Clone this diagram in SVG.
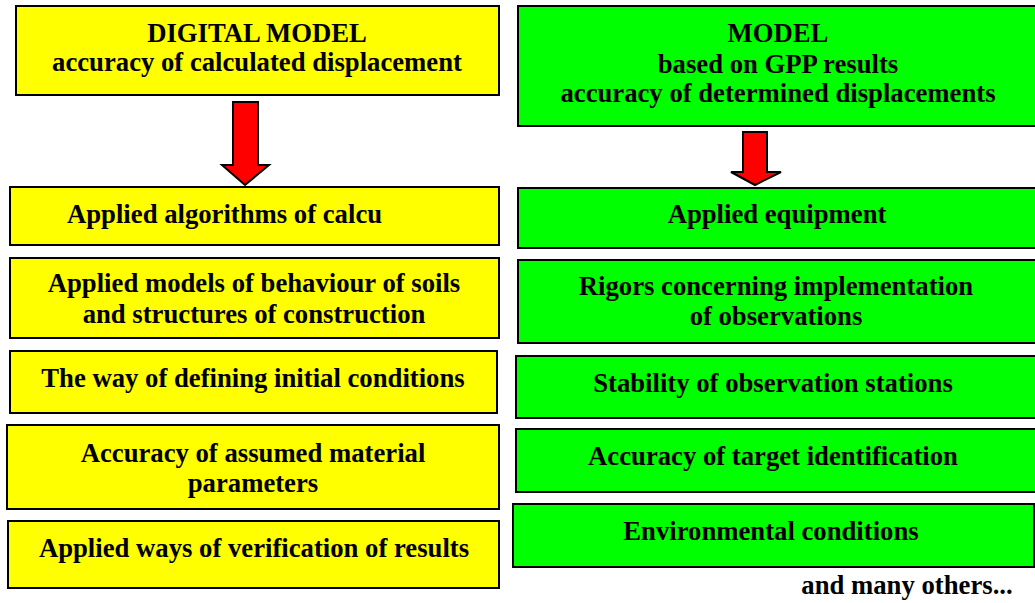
<svg xmlns="http://www.w3.org/2000/svg" width="1035" height="603" viewBox="0 0 1035 603">
<style>
.y{fill:#FFFF00;stroke:#000;stroke-width:2}
.g{fill:#00FF00;stroke:#000;stroke-width:2}
.t{font-family:"Liberation Serif","Times New Roman",serif;font-weight:bold;font-size:26.7px;fill:#000;text-anchor:middle}
.a{fill:#FF0000;stroke:#000;stroke-width:2;stroke-linejoin:miter}
</style>
<rect width="1035" height="603" fill="#fff"/>
<g id="left-head"><rect class="y" x="16" y="6" width="483" height="89"/>
<text class="t" x="257" y="42">DIGITAL MODEL</text>
<text class="t" x="257" y="71">accuracy of calculated displacement</text></g>
<g id="right-head"><rect class="g" x="518" y="6" width="530" height="120"/>
<text class="t" x="778" y="42">MODEL</text>
<text class="t" x="778" y="73">based on GPP results</text>
<text class="t" x="778" y="102">accuracy of determined displacements</text></g>
<g id="connectors">
<polygon class="a" points="233,102 258,102 258,165 269,165 245,185 222,165 233,165"/>
<polygon class="a" points="743,132 767,132 767,172 781,172 755,185 731,172 743,172"/>
</g>
<g id="l1"><rect class="y" x="10" y="187" width="489" height="58"/>
<text class="t" x="67" y="223" style="text-anchor:start">Applied algorithms of calcu</text></g>
<g id="l2"><rect class="y" x="10" y="258" width="489" height="80"/>
<text class="t" x="254" y="292">Applied models of behaviour of soils</text>
<text class="t" x="254" y="323">and structures of construction</text></g>
<g id="l3"><rect class="y" x="10" y="351" width="487" height="62"/>
<text class="t" x="253" y="387">The way of defining initial conditions</text></g>
<g id="l4"><rect class="y" x="7" y="425" width="492" height="84"/>
<text class="t" x="253" y="462">Accuracy of assumed material</text>
<text class="t" x="253" y="492">parameters</text></g>
<g id="l5"><rect class="y" x="8" y="521" width="491" height="67"/>
<text class="t" x="254" y="557">Applied ways of verification of results</text></g>
<g id="r1"><rect class="g" x="518" y="188" width="530" height="60"/>
<text class="t" x="777" y="223">Applied equipment</text></g>
<g id="r2"><rect class="g" x="518" y="260" width="530" height="83"/>
<text class="t" x="776" y="295">Rigors concerning implementation</text>
<text class="t" x="776" y="325">of observations</text></g>
<g id="r3"><rect class="g" x="516" y="356" width="530" height="62"/>
<text class="t" x="773" y="392">Stability of observation stations</text></g>
<g id="r4"><rect class="g" x="516" y="429" width="530" height="63"/>
<text class="t" x="773" y="465">Accuracy of target identification</text></g>
<g id="r5"><rect class="g" x="513" y="504" width="521" height="63"/>
<text class="t" x="771" y="540">Environmental conditions</text></g>
<text id="note" class="t" x="907" y="594">and many others...</text>
</svg>
